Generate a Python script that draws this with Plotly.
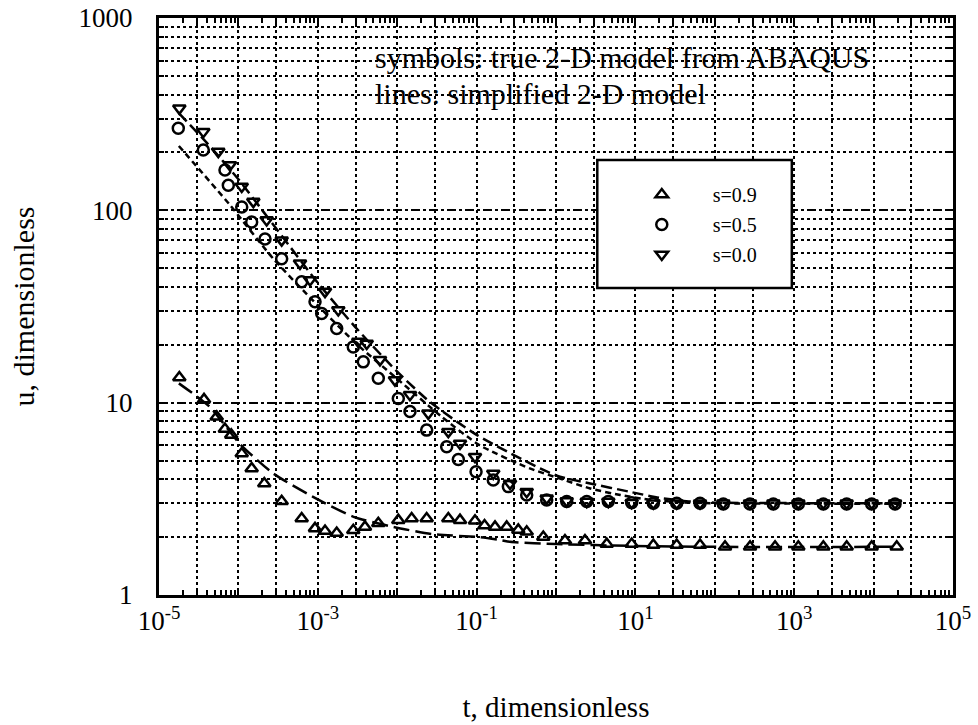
import numpy as np
import plotly.graph_objects as go

# ---------------- data (log10 t, u) ----------------
# s = 0.9 : ABAQUS symbols
t09_log = [-4.744, -4.433, -4.273, -4.17, -4.09, -3.958, -3.833, -3.674, -3.455, -3.203,
           -3.035, -2.909, -2.762, -2.553, -2.406, -2.238, -1.986, -1.818, -1.629, -1.356,
           -1.209, -1.020, -0.90, -0.768, -0.621, -0.475, -0.369, -0.160, 0.113, 0.365,
           0.639, 0.953, 1.226, 1.520, 1.814, 2.129, 2.444, 2.759, 3.052, 3.367,
           3.661, 3.976, 4.291]
u09 = [13.5, 10.4, 8.45, 7.3, 6.8, 5.44, 4.55, 3.80, 3.07, 2.50,
       2.22, 2.15, 2.10, 2.17, 2.26, 2.36, 2.45, 2.50, 2.50, 2.50,
       2.45, 2.43, 2.30, 2.26, 2.26, 2.18, 2.13, 2.00, 1.92, 1.92,
       1.84, 1.84, 1.82, 1.82, 1.82, 1.78, 1.78, 1.78, 1.78, 1.78,
       1.78, 1.78, 1.78]

# s = 0.5 : ABAQUS symbols
t05_log = [-4.757, -4.442, -4.169, -4.127, -3.958, -3.833, -3.665, -3.455, -3.203, -3.035,
           -2.951, -2.762, -2.553, -2.427, -2.238, -1.986, -1.839, -1.629, -1.377, -1.230,
           -1.007, -0.790, -0.600, -0.369, -0.117, 0.135, 0.387, 0.659, 0.953, 1.226,
           1.520, 1.814, 2.107, 2.443, 2.737, 3.052, 3.367, 3.661, 3.976, 4.270]
u05 = [267, 206, 162, 135, 104, 87, 71, 56, 42.5, 33.5,
       29.1, 24.3, 19.5, 16.3, 13.4, 10.5, 9.0, 7.2, 5.9, 5.07,
       4.37, 3.96, 3.66, 3.31, 3.12, 3.06, 3.06, 3.06, 3.02, 3.0,
       3.0, 3.0, 2.97, 2.97, 2.97, 2.97, 2.97, 2.97, 2.97, 2.97]

# s = 0.0 : ABAQUS symbols
t00_log = [-4.744, -4.442, -4.253, -4.106, -3.958, -3.812, -3.644, -3.455, -3.224, -3.098,
           -2.909, -2.742, -2.490, -2.384, -2.217, -2.028, -1.839, -1.608, -1.356, -1.209,
           -1.020, -0.790, -0.579, -0.369, -0.117, 0.135, 0.387, 0.659, 0.953, 1.226,
           1.520, 1.814, 2.107, 2.443, 2.737, 3.052, 3.367, 3.661, 3.976, 4.270]
u00 = [339, 256, 202, 172, 133, 111, 89, 70, 53, 43.4,
       37.8, 30.3, 20.8, 20.3, 16.7, 13.1, 11.0, 8.8, 7.07, 6.14,
       5.24, 4.28, 3.80, 3.44, 3.18, 3.08, 3.06, 3.06, 3.02, 3.0,
       3.0, 3.0, 3.0, 3.0, 3.0, 3.0, 3.0, 3.0, 3.0, 3.0]

# simplified 2-D model lines
l09_tlog = [-4.75, -4.36, -3.98, -3.56, -3.06, -2.55, -2.05, -1.55, -0.96, -0.70, -0.58, 0.0, 0.95, 2.0, 4.3]
l09_u = [12.6, 9.5, 6.1, 4.28, 3.24, 2.55, 2.26, 2.07, 2.0, 1.93, 1.89, 1.84, 1.80, 1.78, 1.78]

l05_tlog = [-4.75, -4.11, -3.56, -3.0, -2.5, -2.0, -1.44, -0.96, -0.33, 0.05, 0.43, 0.81, 1.2, 1.6, 2.0, 4.3]
l05_u = [216, 107, 56, 32, 20, 13.3, 8.45, 6.0, 4.55, 4.03, 3.58, 3.31, 3.12, 3.03, 3.0, 2.98]

l00_tlog = [-4.75, -4.4, -4.0, -3.5, -3.0, -2.5, -2.0, -1.59, -1.0, -0.2, 0.05, 0.43, 0.93, 1.3, 1.7, 2.0, 4.3]
l00_u = [320, 225, 145, 78, 42, 24, 14.5, 10.1, 6.8, 4.55, 4.12, 3.80, 3.44, 3.2, 3.06, 3.02, 3.0]

series_names = ["s=0.9", "s=0.5", "s=0.0"]

# tick labels
x_tickvals = [10.0 ** k * m for k in range(-5, 6) for m in (1, 3) if not (k == 5 and m == 3)]
x_ticktext = []
for v in x_tickvals:
    k = int(round(np.log10(v)))
    if abs(v - 10.0 ** k) / v < 1e-9 and k % 2 != 0:
        x_ticktext.append("10<sup>%d</sup>" % k)
    else:
        x_ticktext.append("")
y_tickvals = [1, 10, 100, 1000]
y_ticktext = ["1", "10", "100", "1000"]

SERIF = "Liberation Serif, Times New Roman, serif"

def pw(a):
    return [10.0 ** v for v in a]

fig = go.Figure()

# lines
line_styles = ["16px,6px", "6px,4px", "11px,5px"]
for tl, uu, dash in [(l09_tlog, l09_u, line_styles[0]),
                     (l05_tlog, l05_u, line_styles[1]),
                     (l00_tlog, l00_u, line_styles[2])]:
    fig.add_trace(go.Scatter(x=pw(tl), y=uu, mode="lines", showlegend=False,
                             line=dict(color="black", width=2.5, dash=dash, shape="spline", smoothing=0.6),
                             hoverinfo="skip"))

# symbols
for tl, uu, sym, name in [(t09_log, u09, "triangle-up-open", series_names[0]),
                          (t05_log, u05, "circle-open", series_names[1]),
                          (t00_log, u00, "triangle-down-open", series_names[2])]:
    fig.add_trace(go.Scatter(x=pw(tl), y=uu, mode="markers", name=name, legendgroup=name,
                             marker=dict(symbol=sym, size=11, color="black", line=dict(width=2.5, color="black"))))

fig.update_layout(
    width=978, height=725,
    margin=dict(l=159, r=25, t=18, b=130, autoexpand=False),
    paper_bgcolor="white", plot_bgcolor="white",
    font=dict(family=SERIF, color="black", size=24),
    showlegend=True,
    legend=dict(x=0.569, y=0.728, xanchor="left", yanchor="top",
                bgcolor="rgba(0,0,0,0)", borderwidth=0,
                font=dict(family=SERIF, size=20, color="black"),
                itemwidth=92, tracegroupgap=1),
    shapes=[dict(type="rect", xref="paper", yref="paper", x0=0.552, x1=0.797, y0=0.532, y1=0.754,
                 line=dict(color="black", width=2.5), fillcolor="white", layer="above")],
    annotations=[
        dict(text="symbols: true 2-D model from ABAQUS", xref="paper", yref="paper",
             x=0.2695, y=0.932, xanchor="left", yanchor="middle", showarrow=False,
             font=dict(family=SERIF, size=30, color="black")),
        dict(text="lines: simplified 2-D model", xref="paper", yref="paper",
             x=0.2695, y=0.869, xanchor="left", yanchor="middle", showarrow=False,
             font=dict(family=SERIF, size=30, color="black")),
    ],
)

fig.update_xaxes(
    type="log", range=[-5, 5], automargin=False,
    tickmode="array", tickvals=x_tickvals, ticktext=x_ticktext,
    ticks="inside", ticklen=7, tickwidth=1.5, tickcolor="black",
    showline=True, linecolor="black", linewidth=3, mirror="ticks",
    showgrid=True, gridcolor="black", gridwidth=1.5, griddash="dot",
    minor=dict(dtick="D1", ticks="inside", ticklen=5, tickwidth=1.5, tickcolor="black", showgrid=False),
    tickfont=dict(family=SERIF, size=27),
    zeroline=False,
    title=dict(text="t, dimensionless", font=dict(family=SERIF, size=29), standoff=62),
)
fig.update_yaxes(
    type="log", range=[0, 3], automargin=False,
    tickmode="array", tickvals=y_tickvals, ticktext=y_ticktext,
    ticks="inside", ticklen=7, tickwidth=1.5, tickcolor="black",
    showline=True, linecolor="black", linewidth=3, mirror="ticks",
    showgrid=True, gridcolor="black", gridwidth=1.5, griddash="dashdot",
    minor=dict(dtick="D1", ticks="inside", ticklen=5, tickwidth=1.5, tickcolor="black",
               showgrid=True, gridcolor="black", gridwidth=1.5, griddash="dot"),
    tickfont=dict(family=SERIF, size=27),
    ticklabelstandoff=18,
    zeroline=False,
    title=dict(text="u, dimensionless", font=dict(family=SERIF, size=30), standoff=36),
)

fig.write_html("out.html")
